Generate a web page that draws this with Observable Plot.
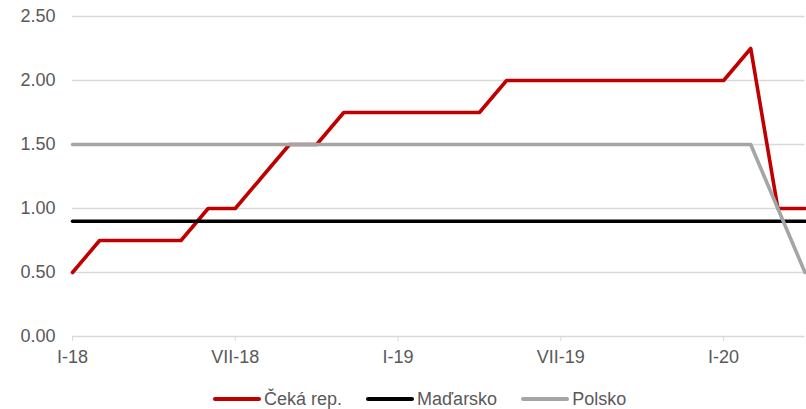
<!DOCTYPE html>
<html><head><meta charset="utf-8">
<script src="https://cdn.jsdelivr.net/npm/d3@7"></script>
<script src="https://cdn.jsdelivr.net/npm/@observablehq/plot@0.6"></script>
<style>
body{margin:0;background:#fff;font-family:"Liberation Sans",Arial,sans-serif}
#wrap{position:relative;width:806px;height:409px;overflow:hidden}
#legend{position:absolute;left:213px;top:387px;display:flex;align-items:center;font-size:18px;color:#595959;line-height:24px;white-space:nowrap}
.sw{display:inline-block;width:48px;height:4px;border-radius:2px;margin-right:3px}
.item{display:flex;align-items:center;margin-right:24px}
</style></head>
<body><div id="wrap"><div id="legend"></div></div>
<script>
// monthly data I-18 .. IV-20
const months = ["I-18","II-18","III-18","IV-18","V-18","VI-18","VII-18","VIII-18","IX-18","X-18","XI-18","XII-18",
  "I-19","II-19","III-19","IV-19","V-19","VI-19","VII-19","VIII-19","IX-19","X-19","XI-19","XII-19",
  "I-20","II-20","III-20","IV-20"];
const czech   = [0.50,0.75,0.75,0.75,0.75,1.00,1.00,1.25,1.50,1.50,1.75,1.75,
                 1.75,1.75,1.75,1.75,2.00,2.00,2.00,2.00,2.00,2.00,2.00,2.00,
                 2.00,2.25,1.00,1.00];
const hungary = [0.90,0.90,0.90,0.90,0.90,0.90,0.90,0.90,0.90,0.90,0.90,0.90,
                 0.90,0.90,0.90,0.90,0.90,0.90,0.90,0.90,0.90,0.90,0.90,0.90,
                 0.90,0.90,0.90,0.90];
const poland  = [1.50,1.50,1.50,1.50,1.50,1.50,1.50,1.50,1.50,1.50,1.50,1.50,
                 1.50,1.50,1.50,1.50,1.50,1.50,1.50,1.50,1.50,1.50,1.50,1.50,
                 1.50,1.50,1.00,0.50];
const seriesNames = ["Čeká rep.","Maďarsko","Polsko"];
const seriesColors = ["#c00000","#000000","#a5a5a5"];
const xTickLabels = ["I-18","VII-18","I-19","VII-19","I-20"];
const yTicks = [0,0.5,1,1.5,2,2.5];

const seriesValues = [czech, hungary, poland];
const rows = seriesValues.map((vals, s) => vals.map((v, i) => ({series: seriesNames[s], i, v})));
const xTicks = xTickLabels.map(l => months.indexOf(l));

const plot = Plot.plot({
  width: 806, height: 409,
  marginLeft: 72, marginRight: 1.5, marginTop: 16, marginBottom: 73,
  style: {fontSize: "18px", fontFamily: "'Liberation Sans', Arial, sans-serif", background: "#fff"},
  x: {domain: [0, months.length - 1]},
  y: {domain: [0, 2.5]},
  marks: [
    Plot.gridY(yTicks, {stroke: "#d9d9d9", strokeOpacity: 1, strokeWidth: 1.3}),
    Plot.axisY({ticks: yTicks, tickFormat: d3.format(".2f"), tickSize: 0, tickPadding: 17, fill: "#595959", label: null}),
    Plot.axisX({ticks: xTicks, tickFormat: i => months[i], tickSize: 5, tickPadding: 9, stroke: "#d9d9d9", strokeOpacity: 1, fill: "#595959", label: null}),
    ...rows.map((r, s) => Plot.line(r, {x: "i", y: "v", stroke: seriesColors[s], strokeWidth: 3.6}))
  ]
});
document.getElementById("wrap").prepend(plot);

const lg = document.getElementById("legend");
seriesNames.forEach((n, s) => {
  const it = document.createElement("div");
  it.className = "item";
  it.innerHTML = `<span class="sw" style="background:${seriesColors[s]}"></span><span>${n}</span>`;
  lg.appendChild(it);
});
</script>
</body></html>
